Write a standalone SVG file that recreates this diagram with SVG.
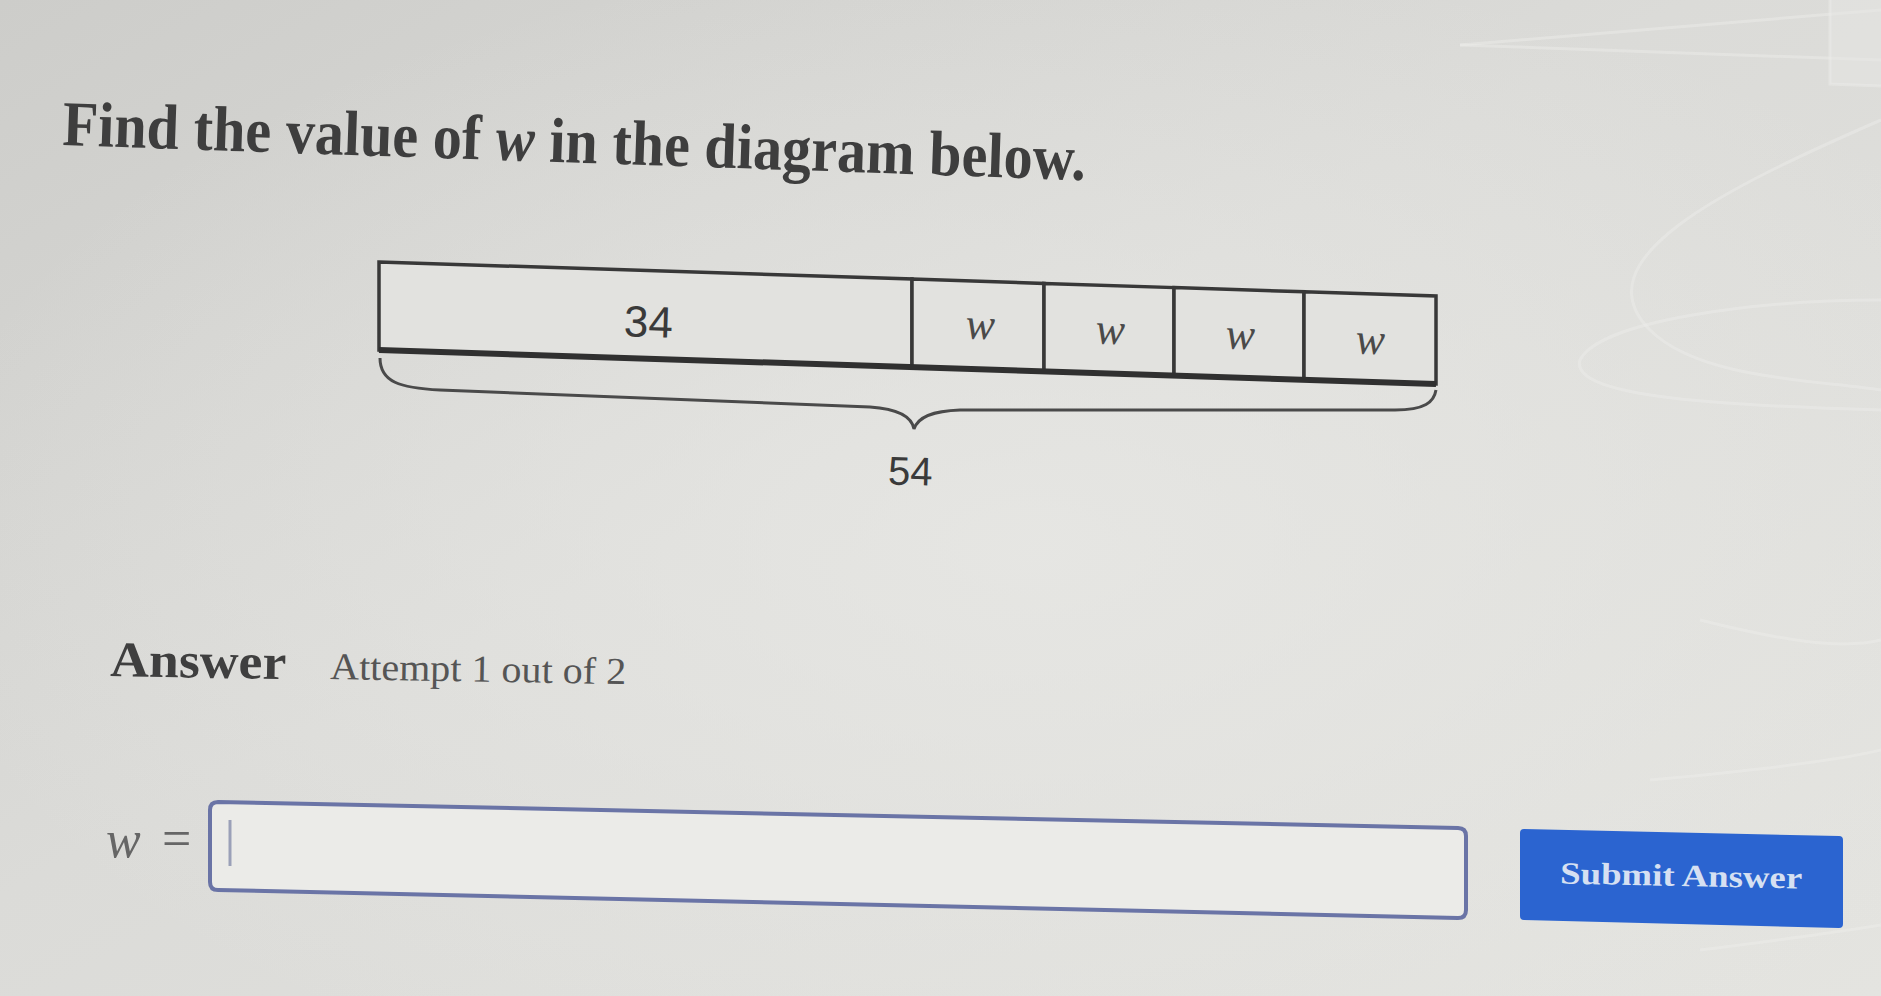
<svg xmlns="http://www.w3.org/2000/svg" width="1881" height="996" viewBox="0 0 1881 996">
  <defs>
    <linearGradient id="bg" x1="0" y1="0" x2="1" y2="1">
      <stop offset="0" stop-color="#cdcdca"/>
      <stop offset="0.45" stop-color="#dbdbd8"/>
      <stop offset="1" stop-color="#e4e4e0"/>
    </linearGradient>
    <radialGradient id="glow" cx="0.55" cy="0.55" r="0.6">
      <stop offset="0" stop-color="#e8e8e5" stop-opacity="0.8"/>
      <stop offset="1" stop-color="#e8e8e5" stop-opacity="0"/>
    </radialGradient>
    <style>
      .cell { fill: #e2e2df; stroke: #383838; stroke-width: 3.5; stroke-linejoin: miter; }
      .bottom { stroke: #303030; stroke-width: 6; fill: none; }
      .num { font-family: "Liberation Sans", Arial, sans-serif; fill: #3a3a3a; text-anchor: middle; }
      .var { font-family: "Liberation Serif", "Times New Roman", serif; font-style: italic; fill: #4a4a4a; text-anchor: middle; }
      .serif { font-family: "Liberation Serif", "Times New Roman", serif; }
      .faint { fill: none; stroke: #eeeeeb; stroke-width: 3; opacity: 0.45; }
    </style>
  </defs>

  <rect width="1881" height="996" fill="url(#bg)"/>
  <rect width="1881" height="996" fill="url(#glow)"/>

  <!-- faint reflections (photo) -->
  <g id="reflections">
    <path class="faint" d="M1460,45 L1881,10"/>
    <path class="faint" d="M1460,45 L1881,60"/>
    <path d="M1830,0 L1881,0 L1881,86 L1830,84 Z" fill="#e6e6e3" opacity="0.5"/>
    <path class="faint" d="M1830,0 L1830,84 L1881,86"/>
    <path class="faint" d="M1881,120 C1720,190 1580,260 1650,330 C1700,380 1820,380 1881,390"/>
    <path class="faint" d="M1881,300 C1760,300 1600,320 1580,360 C1570,395 1700,405 1881,410"/>
    <path class="faint" d="M1700,620 C1780,640 1840,650 1881,640"/>
    <path class="faint" d="M1650,780 C1760,770 1840,760 1881,750"/>
    <path class="faint" d="M1700,950 C1780,940 1850,930 1881,925"/>
  </g>

  <!-- title -->
  <g id="title">
    <text class="serif" x="62" y="145" font-size="64" font-weight="bold" fill="#3e3e3e" textLength="1024" lengthAdjust="spacingAndGlyphs" transform="rotate(1.96 62 145)">Find the value of <tspan font-style="italic">w</tspan> in the diagram below.</text>
  </g>

  <!-- tape diagram -->
  <g id="cell-34">
    <polygon class="cell" points="379,262 912,279 912,367 379,350"/>
    <text class="num" x="648" y="337" font-size="44" transform="rotate(1.84 648 337)">34</text>
  </g>
  <g id="cell-w1">
    <polygon class="cell" points="912,279 1044,283.4 1044,371.4 912,367"/>
    <text class="var" x="980" y="339" font-size="44" transform="rotate(1.84 980 339)">w</text>
  </g>
  <g id="cell-w2">
    <polygon class="cell" points="1044,283.4 1174,287.6 1174,375.6 1044,371.4"/>
    <text class="var" x="1110" y="344" font-size="44" transform="rotate(1.84 1110 344)">w</text>
  </g>
  <g id="cell-w3">
    <polygon class="cell" points="1174,287.6 1304,291.8 1304,379.8 1174,375.6"/>
    <text class="var" x="1240" y="349" font-size="44" transform="rotate(1.84 1240 349)">w</text>
  </g>
  <g id="cell-w4">
    <polygon class="cell" points="1304,291.8 1436,296 1436,384 1304,379.8"/>
    <text class="var" x="1370" y="354" font-size="44" transform="rotate(1.84 1370 354)">w</text>
  </g>
  <g id="connectors">
    <path class="bottom" d="M379,350 L1436,384"/>
    <path id="brace" d="M380,358 C380,382 400,388 440,390 L870,407 C900,409 912,418 914,429 C918,417 932,411 960,410 L1395,410 C1425,410 1434,402 1436,390" fill="none" stroke="#4a4a4a" stroke-width="3"/>
  </g>
  <g id="total">
    <text class="num" x="910" y="485" font-size="40" transform="rotate(1.5 910 485)">54</text>
  </g>

  <!-- answer section -->
  <g id="answer-heading">
    <text class="serif" x="110" y="676" font-size="50" font-weight="bold" fill="#3f3f3f" textLength="176" lengthAdjust="spacingAndGlyphs" transform="rotate(1 110 676)">Answer</text>
    <text class="serif" x="330" y="679" font-size="38" fill="#555" textLength="296" lengthAdjust="spacingAndGlyphs" transform="rotate(1 330 679)">Attempt 1 out of 2</text>
  </g>

  <g id="answer-input">
    <text class="serif" x="106" y="857" font-size="52" font-style="italic" fill="#666">w</text>
    <text class="serif" x="162" y="856" font-size="52" fill="#666">=</text>
    <path d="M218,802 L1458,828 Q1466,828 1466,836 L1466,910 Q1466,918 1458,918 L218,890 Q210,890 210,882 L210,810 Q210,802 218,802 Z" fill="#ebebe8" stroke="#6a74a6" stroke-width="4"/>
    <line x1="230" y1="820" x2="230" y2="866" stroke="#9aa0b8" stroke-width="3"/>
  </g>

  <g id="submit-button">
    <path d="M1524,829 L1839,836 Q1843,836 1843,840 L1843,924 Q1843,928 1839,928 L1524,920 Q1520,920 1520,916 L1520,833 Q1520,829 1524,829 Z" fill="#2b64d0"/>
    <text class="serif" x="1681" y="886" font-size="31" font-weight="bold" fill="#d6e0f2" text-anchor="middle" textLength="242" lengthAdjust="spacingAndGlyphs" transform="rotate(1.2 1681 886)">Submit Answer</text>
  </g>
</svg>
